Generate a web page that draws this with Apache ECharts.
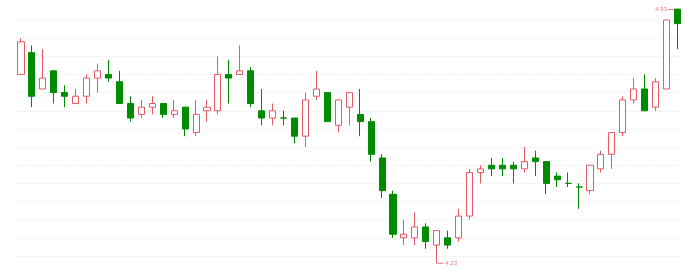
<!DOCTYPE html>
<html>
<head>
<meta charset="utf-8">
<script src="https://cdn.jsdelivr.net/npm/echarts@6/dist/echarts.min.js"></script>
<style>
html,body{margin:0;padding:0;background:#fff;}
#main{width:700px;height:273px;}
</style>
</head>
<body>
<div id="main"></div>
<script>
// Daily candles: [open, close, low, high]
var categories = [];
for (var i = 1; i <= 61; i++) { categories.push('D' + i); }

var opens  = [4.75,4.81,4.71,4.76,4.70,4.67,4.69,4.74,4.75,4.73,
              4.67,4.64,4.66,4.67,4.64,4.66,4.59,4.65,4.65,4.75,
              4.75,4.76,4.65,4.63,4.63,4.63,4.58,4.69,4.70,4.61,
              4.66,4.64,4.62,4.52,4.42,4.30,4.30,4.33,4.28,4.30,
              4.30,4.36,4.48,4.50,4.50,4.50,4.49,4.52,4.51,4.47,
              4.45,4.44,4.43,4.49,4.53,4.59,4.68,4.71,4.66,4.71,
              4.93];
var closes = [4.84,4.69,4.74,4.70,4.69,4.69,4.74,4.76,4.74,4.67,
              4.63,4.66,4.67,4.64,4.65,4.60,4.64,4.66,4.75,4.74,
              4.76,4.67,4.63,4.65,4.63,4.58,4.68,4.71,4.62,4.68,
              4.70,4.62,4.53,4.43,4.31,4.31,4.33,4.29,4.32,4.28,
              4.36,4.48,4.49,4.49,4.49,4.49,4.51,4.51,4.45,4.46,
              4.45,4.44,4.50,4.53,4.59,4.68,4.71,4.65,4.73,4.90,
              4.89];
var lows   = [4.75,4.66,4.71,4.67,4.66,4.67,4.67,4.70,4.73,4.67,
              4.62,4.63,4.64,4.63,4.63,4.58,4.58,4.62,4.64,4.67,
              4.75,4.66,4.61,4.61,4.61,4.56,4.55,4.68,4.62,4.59,
              4.61,4.58,4.51,4.41,4.30,4.28,4.28,4.27,4.23,4.27,
              4.29,4.35,4.45,4.47,4.47,4.45,4.48,4.47,4.42,4.44,
              4.44,4.38,4.42,4.48,4.49,4.58,4.67,4.65,4.65,4.71,
              4.82];
var highs  = [4.85,4.83,4.82,4.76,4.72,4.71,4.75,4.78,4.79,4.76,
              4.69,4.68,4.69,4.67,4.68,4.66,4.68,4.68,4.80,4.79,
              4.83,4.77,4.71,4.67,4.65,4.63,4.70,4.76,4.70,4.68,
              4.70,4.71,4.63,4.53,4.43,4.35,4.37,4.34,4.32,4.32,
              4.38,4.49,4.50,4.52,4.52,4.51,4.55,4.54,4.51,4.48,
              4.48,4.45,4.50,4.54,4.59,4.69,4.74,4.75,4.74,4.90,
              4.93];

var gridMin = 4.25, gridMax = 4.90, gridStep = 0.05;

var candles = opens.map(function (o, i) { return [o, closes[i], lows[i], highs[i]]; });

var maxIdx = 0, minIdx = 0;
highs.forEach(function (h, i) { if (h > highs[maxIdx]) maxIdx = i; });
lows.forEach(function (l, i) { if (l < lows[minIdx]) minIdx = i; });

var upColor = '#e65a64';
var downColor = '#008c00';

var chart = echarts.init(document.getElementById('main'), null, {renderer: 'canvas'});
chart.setOption({
  animation: false,
  backgroundColor: '#fff',
  grid: {left: 15.5, right: 17, top: 20, bottom: 17},
  xAxis: {
    type: 'category',
    data: categories,
    boundaryGap: true,
    axisLine: {show: false},
    axisTick: {show: false},
    axisLabel: {show: false},
    splitLine: {show: false}
  },
  yAxis: {
    type: 'value',
    min: gridMin,
    max: gridMax,
    interval: gridStep,
    axisLine: {show: false},
    axisTick: {show: false},
    axisLabel: {show: false},
    splitLine: {show: true, lineStyle: {color: '#e2e2e2', type: [1, 2], width: 1}}
  },
  series: [{
    type: 'candlestick',
    data: candles,
    clip: false,
    barWidth: '60%',
    itemStyle: {
      color: '#ffffff',
      color0: downColor,
      borderColor: upColor,
      borderColor0: downColor,
      borderWidth: 1
    }
  }, {
    type: 'scatter',
    clip: false,
    silent: true,
    z: 3,
    data: [
      {
        value: [maxIdx, highs[maxIdx]],
        symbol: 'rect',
        symbolSize: [6, 1],
        symbolOffset: [-6.5, 0.5],
        itemStyle: {color: upColor},
        label: {show: true, position: 'left', distance: 1, formatter: highs[maxIdx].toFixed(2),
                color: upColor, fontSize: 6, fontFamily: 'Liberation Sans'}
      },
      {
        value: [minIdx, lows[minIdx]],
        symbol: 'rect',
        symbolSize: [7, 1],
        symbolOffset: [3.5, 0],
        itemStyle: {color: upColor},
        label: {show: true, position: 'right', distance: 1.5, formatter: lows[minIdx].toFixed(2),
                color: upColor, fontSize: 6, fontFamily: 'Liberation Sans'}
      }
    ]
  }]
});
</script>
</body>
</html>
